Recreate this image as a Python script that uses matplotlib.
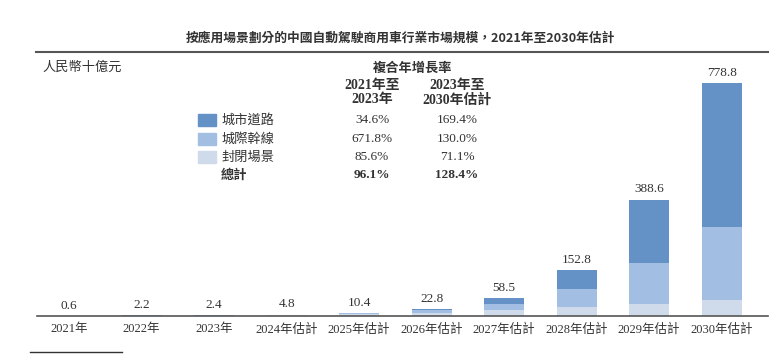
import numpy as np
import matplotlib.pyplot as plt
from matplotlib.lines import Line2D
from matplotlib.patches import Rectangle

years = ["2021年", "2022年", "2023年", "2024年估計", "2025年估計", "2026年估計",
         "2027年估計", "2028年估計", "2029年估計", "2030年估計"]
urban = [0.26, 0.35, 0.47, 0.6, 1.2, 3.0, 19.0, 64.0, 212.0, 481.0]
trunk = [0.01, 0.5, 0.72, 1.4, 3.5, 9.0, 20.0, 60.0, 137.0, 245.0]
closed = [0.33, 1.35, 1.21, 2.8, 5.7, 10.8, 19.5, 28.8, 39.6, 52.8]
totals = ["0.6", "2.2", "2.4", "4.8", "10.4", "22.8", "58.5", "152.8", "388.6", "778.8"]

seg_names = ["城市道路", "城際幹線", "封閉場景"]
cagr_2123 = ["34.6%", "671.8%", "85.6%"]
cagr_2330 = ["169.4%", "130.0%", "71.1%"]
total_2123 = "96.1%"
total_2330 = "128.4%"

c_urban = "#6592c6"
c_trunk = "#a2bfe3"
c_closed = "#cfdbea"
txt = "#333333"

SERIF = ["Liberation Serif", "Noto Sans CJK TC"]
CJK = ["Noto Sans CJK TC", "DejaVu Sans"]

fig = plt.figure(figsize=(7.75, 3.56), dpi=100)
W, H = 775, 356

def fx(px):
    return px / W

def fy(py):
    return 1 - py / H

ax = fig.add_axes([fx(37), fy(316), fx(768) - fx(37), fy(60) - fy(316)])

x = np.arange(len(years))
u = np.array(urban)
t = np.array(trunk)
c = np.array(closed)
bw = 0.55
ax.bar(x, c, bw, color=c_closed)
ax.bar(x, t, bw, bottom=c, color=c_trunk)
ax.bar(x, u, bw, bottom=c + t, color=c_urban)

tops = u + t + c
for xi, top, lab in zip(x, tops, totals):
    ax.annotate(lab, (xi, top), xytext=(0, 3), textcoords="offset points",
                ha="center", va="bottom", fontsize=9.5, color=txt, family=SERIF)

ax.set_xlim(-0.444, 9.64)
ax.set_ylim(0, 854.6)
ax.set_xticks(x)
ax.set_xticklabels(years, family=SERIF, fontsize=9, color=txt)
ax.tick_params(axis="x", length=0, pad=5)
ax.set_yticks([])
for s in ["top", "left", "right"]:
    ax.spines[s].set_visible(False)
ax.spines["bottom"].set_color("#555555")
ax.spines["bottom"].set_linewidth(1.2)

# title and header rule
fig.text(fx(400), fy(38), "按應用場景劃分的中國自動駕駛商用車行業市場規模，2021年至2030年估計",
         ha="center", va="center", fontsize=9.2, fontweight="bold", color=txt, family=CJK)
fig.add_artist(Line2D([fx(36), fx(768)], [fy(52), fy(52)], color="#555555", lw=1.5))
fig.text(fx(42), fy(67), "人民幣十億元", ha="left", va="center", fontsize=9.5,
         color=txt, family=CJK)

# CAGR table
fig.text(fx(413), fy(68), "複合年增長率", ha="center", va="center", fontsize=9.5,
         fontweight="bold", color=txt, family=CJK)
for cx, l1, l2 in [(372, "2021年至", "2023年"), (457, "2023年至", "2030年估計")]:
    fig.text(fx(cx), fy(85), l1, ha="center", va="center", fontsize=10,
             fontweight="bold", color=txt, family=SERIF)
    fig.text(fx(cx), fy(100), l2, ha="center", va="center", fontsize=10,
             fontweight="bold", color=txt, family=SERIF)

row_y = [120, 139, 157]
for name, col, a, b, ry in zip(seg_names, [c_urban, c_trunk, c_closed],
                               cagr_2123, cagr_2330, row_y):
    fig.add_artist(Rectangle((fx(198), fy(ry + 6)), fx(18), fy(0) - fy(12),
                             color=col, transform=fig.transFigure))
    fig.text(fx(221), fy(ry), name, ha="left", va="center", fontsize=9.5,
             color=txt, family=CJK)
    fig.text(fx(372), fy(ry), a, ha="center", va="center", fontsize=9.5,
             color=txt, family=SERIF)
    fig.text(fx(457), fy(ry), b, ha="center", va="center", fontsize=9.5,
             color=txt, family=SERIF)

fig.text(fx(221), fy(175), "總計", ha="left", va="center", fontsize=9.5,
         fontweight="bold", color=txt, family=CJK)
fig.text(fx(372), fy(175), total_2123, ha="center", va="center", fontsize=9.5,
         fontweight="bold", color=txt, family=SERIF)
fig.text(fx(457), fy(175), total_2330, ha="center", va="center", fontsize=9.5,
         fontweight="bold", color=txt, family=SERIF)

# footnote rule
fig.add_artist(Line2D([fx(30), fx(122)], [fy(352), fy(352)], color="#333333", lw=1.0))

fig.savefig("out.png", dpi=100)
